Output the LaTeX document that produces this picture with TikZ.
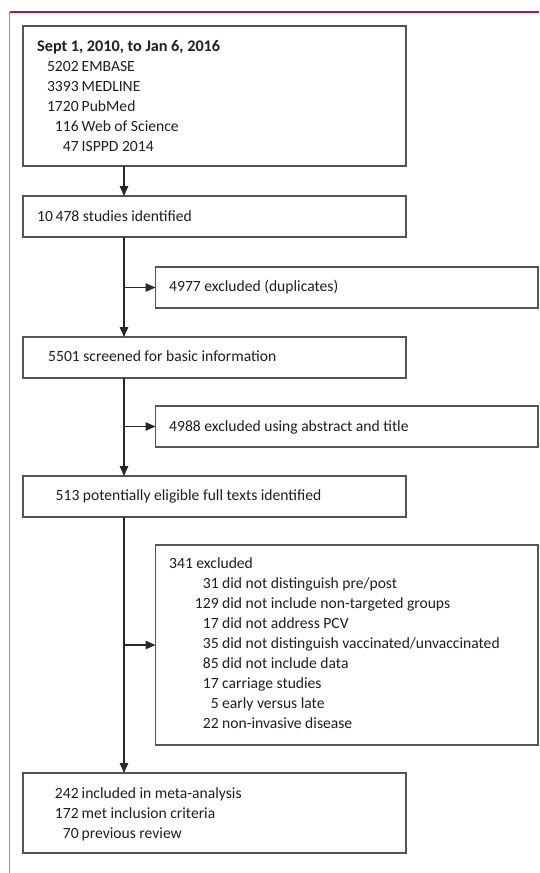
\documentclass[tikz,border=0pt]{standalone}
\usepackage{fontspec}
\setmainfont{Carlito}
\usetikzlibrary{arrows.meta}
\definecolor{lancetred}{RGB}{196,18,62}
\definecolor{boxgray}{RGB}{85,85,85}
\definecolor{arrowgray}{RGB}{40,40,40}
\definecolor{txtcol}{RGB}{30,30,30}
\begin{document}
\begin{tikzpicture}[x=1pt,y=-1pt,
  box/.style={draw=boxgray, line width=1.3pt, rectangle, anchor=north west, inner sep=0pt, outer sep=0pt},
  txt/.style={anchor=base west, inner sep=0pt, font=\fontsize{15.6}{18}\selectfont, text=txtcol},
  arr/.style={draw=arrowgray, line width=1.2pt, -{Triangle[length=10pt,width=8.5pt]}},
]
\useasboundingbox (0,0) rectangle (539,873);
% frame rules
\draw[lancetred, line width=1.1pt] (9.5,12) -- (539,12);
\draw[lancetred!60, line width=0.9pt] (9.5,12) -- (9.5,873);

% boxes
\node[box, minimum width=383pt, minimum height=140pt] (b1) at (23,26) {};
\node[box, minimum width=383pt, minimum height=41pt] (b2) at (23,196) {};
\node[box, minimum width=382.5pt, minimum height=41pt] (b3) at (155.5,267) {};
\node[box, minimum width=383pt, minimum height=41pt] (b4) at (23,337) {};
\node[box, minimum width=382.5pt, minimum height=41pt] (b5) at (155.5,406) {};
\node[box, minimum width=383pt, minimum height=41pt] (b6) at (23,476) {};
\node[box, minimum width=382.5pt, minimum height=200pt] (b7) at (155.5,545) {};
\node[box, minimum width=383pt, minimum height=80pt] (b8) at (23,773) {};

% spine
\coordinate (sx) at (124,0);
\draw[arr] (sx |- b1.south) -- (sx |- b2.north);
\draw[arr] (sx |- b2.south) -- (sx |- b4.north);
\draw[arr] (sx |- b4.south) -- (sx |- b6.north);
\draw[arr] (sx |- b6.south) -- (sx |- b8.north);
\draw[arr] (sx |- b3.west) -- (b3.west);
\draw[arr] (sx |- b5.west) -- (b5.west);
\draw[arr] (sx |- b7.west) -- (b7.west);

% box 1 text
\node[txt, font=\fontsize{16.2}{18}\selectfont\bfseries] (t1a) at (37,51) {Sept 1, 2010, to Jan 6, 2016};
\node[txt] (t1b) at (81.5,71) {\llap{5202\hspace{3pt}}EMBASE};
\node[txt] (t1c) at (81.5,91) {\llap{3393\hspace{3pt}}MEDLINE};
\node[txt] (t1d) at (81.5,111) {\llap{1720\hspace{3pt}}PubMed};
\node[txt] (t1e) at (81.5,131) {\llap{116\hspace{3pt}}Web of Science};
\node[txt] (t1f) at (81.5,151) {\llap{47\hspace{3pt}}ISPPD 2014};

% single-line boxes
\node[txt] (t2) at (37,221) {10\,478 studies identified};
\node[txt] (t3) at (169,291.5) {4977 excluded (duplicates)};
\node[txt] (t4) at (48,361.5) {5501 screened for basic information};
\node[txt] (t5) at (169,431) {4988 excluded using abstract and title};
\node[txt] (t6) at (55.5,500.5) {513 potentially eligible full texts identified};

% box 7 text
\node[txt] (t7a) at (169,568) {341 excluded};
\node[txt] (t7b) at (222,588) {\llap{31\hspace{3.5pt}}did not distinguish pre/post};
\node[txt] (t7c) at (222,608) {\llap{129\hspace{3.5pt}}did not include non-targeted groups};
\node[txt] (t7d) at (222,628) {\llap{17\hspace{3.5pt}}did not address PCV};
\node[txt] (t7e) at (222,648) {\llap{35\hspace{3.5pt}}did not distinguish vaccinated/unvaccinated};
\node[txt] (t7f) at (222,668) {\llap{85\hspace{3.5pt}}did not include data};
\node[txt] (t7g) at (222,688) {\llap{17\hspace{3.5pt}}carriage studies};
\node[txt] (t7h) at (222,708) {\llap{5\hspace{3.5pt}}early versus late};
\node[txt] (t7i) at (222,728) {\llap{22\hspace{3.5pt}}non-invasive disease};

% box 8 text
\node[txt] (t8a) at (81.5,798) {\llap{242\hspace{3pt}}included in meta-analysis};
\node[txt] (t8b) at (81.5,818) {\llap{172\hspace{3pt}}met inclusion criteria};
\node[txt] (t8c) at (81.5,838) {\llap{70\hspace{3pt}}previous review};
\end{tikzpicture}
\end{document}
